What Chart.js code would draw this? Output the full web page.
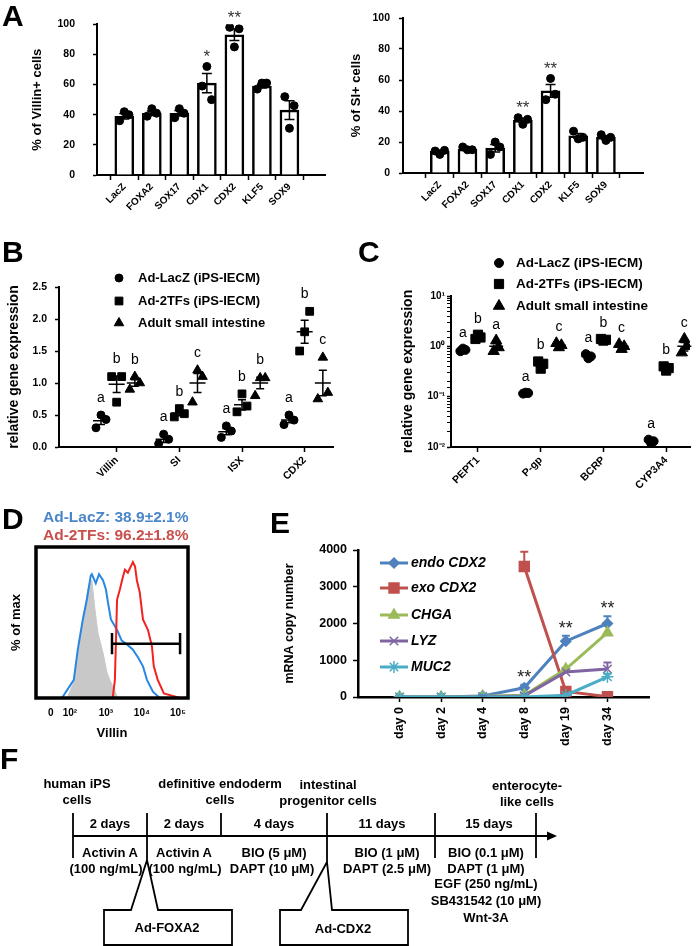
<!DOCTYPE html>
<html>
<head>
<meta charset="utf-8">
<title>Figure</title>
<script src="https://cdn.jsdelivr.net/npm/chart.js@4.4.1/dist/chart.umd.min.js"></script>
<style>
  html, body { margin: 0; padding: 0; background: #fff; }
  body { position: relative; width: 699px; height: 946px; overflow: hidden; font-family: "Liberation Sans", Arial, sans-serif; }
  canvas, svg, .panel, .t, .dt { position: absolute; }
  .panel { font-weight: bold; font-size: 30px; line-height: 1; }
  .t { font-weight: bold; font-size: 13px; line-height: 1; white-space: nowrap; transform: translateX(-50%); }
  .dt { font-weight: bold; font-size: 15.5px; line-height: 1; white-space: nowrap; }
</style>
</head>
<body>
<canvas id="cA1" width="340" height="250" style="left:0;top:0"></canvas>
<canvas id="cA2" width="359" height="250" style="left:340px;top:0"></canvas>
<canvas id="cB" width="340" height="260" style="left:0;top:240px"></canvas>
<canvas id="cC" width="359" height="260" style="left:340px;top:240px"></canvas>
<canvas id="cD" width="240" height="230" style="left:0;top:540px"></canvas>
<canvas id="cE" width="459" height="245" style="left:240px;top:530px"></canvas>

<svg width="699" height="946" style="left:0;top:0" stroke="#000" stroke-width="1.8" fill="none">
  <line x1="73" y1="813" x2="73" y2="858"/>
  <line x1="221" y1="813" x2="221" y2="836"/>
  <line x1="435" y1="813" x2="435" y2="858"/>
  <line x1="536" y1="813" x2="536" y2="858"/>
  <path d="M147 813 L147 860 L131 910 L104 910 L104 945 L232 945 L232 910 L158 910 L147 860"/>
  <path d="M327 813 L327 862 L301 910 L280 910 L280 945 L408 945 L408 910 L332 910 L327 862"/>
  <line x1="73" y1="836" x2="549" y2="836"/>
  <polygon points="547,831.5 557,836 547,840.5" fill="#000" stroke="none"/>
</svg>

<div class="panel" style="left:2px;top:1px">A</div>
<div class="panel" style="left:2px;top:237px">B</div>
<div class="panel" style="left:358px;top:237px">C</div>
<div class="panel" style="left:2px;top:504px">D</div>
<div class="panel" style="left:270px;top:508px">E</div>
<div class="panel" style="left:0;top:744px">F</div>
<div class="dt" style="left:43px;top:509px;color:#4a86c8">Ad-LacZ: 38.9±2.1%</div>
<div class="dt" style="left:43px;top:527px;color:#c8504d">Ad-2TFs: 96.2±1.8%</div>

<script>
// ---------- panel A: % positive cells per transcription factor
const aGenes = ['LacZ', 'FOXA2', 'SOX17', 'CDX1', 'CDX2', 'KLF5', 'SOX9'];
const villinMean = [39, 41, 41, 61, 93, 59, 43];
const villinSem = [1.8, 1.5, 1.8, 6.4, 3.8, 1.3, 6.2];
const villinDots = [[36, 42, 40], [39, 44, 41], [38, 44, 41], [59, 72, 50], [98, 85, 97], [57, 61, 61], [52, 31, 46]];
const villinSig = ['', '', '', '*', '**', '', ''];
const siMean = [14, 15.5, 16, 34, 53, 24, 23];
const siSem = [0.8, 0.7, 2.4, 1.3, 4.1, 1.5, 1.1];
const siDots = [[14.2, 12, 14.6], [16.8, 15, 15], [12, 20, 16.8], [35.7, 31.4, 34.6], [47.3, 61, 50.8], [27, 22, 23], [24.7, 21, 23]];
const siSig = ['', '', '', '**', '**', '', ''];

// ---------- panel B: relative gene expression (linear)
const bGenes = ['Villin', 'SI', 'ISX', 'CDX2'];
const bLacZDots = [[0.3, 0.5, 0.43], [0.05, 0.2, 0.12], [0.15, 0.33, 0.25], [0.35, 0.5, 0.42]];
const bLacZMean = [0.41, 0.12, 0.24, 0.42];
const bLacZSem = [0.06, 0.05, 0.05, 0.04];
const b2TFsDots = [[1.1, 0.7, 1.1], [0.47, 0.6, 0.52], [0.55, 0.83, 0.64], [1.5, 1.8, 2.12]];
const b2TFsMean = [0.98, 0.53, 0.66, 1.8];
const b2TFsSem = [0.13, 0.04, 0.08, 0.18];
const bAdultDots = [[0.9, 1.1, 1.0], [0.7, 1.2, 1.1], [0.8, 1.08, 1.08], [0.75, 1.4, 0.85]];
const bAdultMean = [1.0, 1.0, 1.0, 1.0];
const bAdultSem = [0.05, 0.15, 0.09, 0.2];
const bLetters = [['a', 'a', 'a', 'a'], ['b', 'b', 'b', 'b'], ['b', 'c', 'b', 'c']];

// ---------- panel C: relative gene expression (log)
const cGenes = ['PEPT1', 'P-gp', 'BCRP', 'CYP3A4'];
const cLacZDots = [[0.8, 0.9, 0.85], [0.115, 0.12, 0.118], [0.7, 0.58, 0.63], [0.014, 0.012, 0.013]];
const cLacZMean = [0.85, 0.118, 0.63, 0.013];
const cLacZSem = [0.03, 0.002, 0.03, 0.001];
const c2TFsDots = [[1.4, 1.7, 1.5], [0.5, 0.36, 0.45], [1.4, 1.3, 1.35], [0.4, 0.33, 0.37]];
const c2TFsMean = [1.53, 0.44, 1.35, 0.37];
const c2TFsSem = [0.09, 0.04, 0.03, 0.02];
const cAdultDots = [[0.8, 1.3, 0.95], [1.15, 0.95, 1.05], [1.1, 0.88, 1.0], [0.75, 1.4, 1.0]];
const cAdultMean = [1.0, 1.05, 1.0, 1.0];
const cAdultSem = [0.15, 0.06, 0.06, 0.19];
const cLetters = [['a', 'a', 'a', 'a'], ['b', 'b', 'b', 'b'], ['a', 'c', 'c', 'c']];
const groupNames = ['Ad-LacZ (iPS-IECM)', 'Ad-2TFs (iPS-IECM)', 'Adult small intestine'];

// ---------- panel D: flow cytometry histogram (x in log10 units)
const dTickPos = [1.47, 2, 3, 4, 5];
const dTickLabels = ['0', '10²', '10³', '10⁴', '10⁵'];
const grayLog = [1.92, 2.14, 2.28, 2.42, 2.50, 2.61, 2.69, 2.78, 2.92, 3.03, 3.11, 3.33];
const grayPct = [0, 12, 38, 60, 72, 78, 60, 43, 30, 17, 12, 0];
const blueLog = [1.78, 2.11, 2.22, 2.36, 2.47, 2.58, 2.61, 2.72, 2.81, 2.92, 3.00, 3.06, 3.14, 3.19, 3.31, 3.44, 3.61, 3.75, 3.89, 4.03, 4.14, 4.31, 4.50];
const bluePct = [0, 12, 32, 52, 65, 81, 82, 76, 82, 78, 72, 63, 52, 50, 45, 38, 35, 32, 27, 21, 12, 4, 0];
const redLog = [3.19, 3.25, 3.28, 3.31, 3.39, 3.47, 3.53, 3.61, 3.69, 3.75, 3.81, 3.86, 3.94, 4.03, 4.17, 4.28, 4.33, 4.44, 4.61, 5.06];
const redPct = [0, 12, 38, 65, 72, 80, 85, 83, 87, 90, 87, 78, 70, 52, 45, 34, 21, 12, 3, 0];
const gateFrom = 3.17, gateTo = 5.06, gateLevel = 36;

// ---------- panel E: mRNA copy number time course
const eDays = ['day 0', 'day 2', 'day 4', 'day 8', 'day 19', 'day 34'];
const endoCDX2 = [0, 0, 30, 250, 1520, 2000];
const endoErr = [0, 0, 10, 80, 150, 200];
const exoCDX2 = [null, null, null, 3550, 150, 10];
const exoErr = [0, 0, 0, 400, 0, 0];
const chga = [0, 0, 20, 50, 760, 1750];
const chgaErr = [0, 0, 0, 0, 40, 0];
const lyz = [0, 0, 10, 30, 680, 760];
const lyzErr = [0, 0, 0, 0, 0, 180];
const muc2 = [0, 0, 0, 0, 50, 550];
const muc2Err = [0, 0, 0, 0, 0, 80];
const eSig = ['', '', '', '**', '**', '**'];

Chart.defaults.font.family = '"Liberation Sans", Arial, sans-serif';
Chart.defaults.color = '#000';
Chart.defaults.animation = false;
Chart.defaults.events = [];
Chart.defaults.plugins.legend.display = false;
Chart.defaults.plugins.tooltip.enabled = false;

const BOLD = s => ({size: s, weight: 'bold'});
const fixW = w => s => { s.width = w; };
const fixH = h => s => { s.height = h; };
const drawPoint = Chart.helpers.drawPoint;
const pts = (xs, ys) => xs.map((x, i) => ({x, y: ys[i]}));
const dotShiftA = [-0.17, 0, 0.17];

function barExtras(mean, sem, dots, sig) {
  return {
    id: 'barExtras',
    afterDatasetsDraw(chart) {
      const {ctx, scales: {x, y}} = chart;
      ctx.save();
      ctx.strokeStyle = '#000';
      ctx.lineWidth = 1.5;
      mean.forEach((m, i) => {
        const px = x.getPixelForValue(i);
        const hi = y.getPixelForValue(m + sem[i]), lo = y.getPixelForValue(m - sem[i]);
        ctx.beginPath();
        ctx.moveTo(px, hi); ctx.lineTo(px, lo);
        ctx.moveTo(px - 5, hi); ctx.lineTo(px + 5, hi);
        ctx.moveTo(px - 5, lo); ctx.lineTo(px + 5, lo);
        ctx.stroke();
        if (sig[i]) {
          const top = Math.min(hi, ...dots[i].map(v => y.getPixelForValue(v)));
          ctx.fillStyle = '#333';
          ctx.font = '17px "Liberation Sans", Arial, sans-serif';
          ctx.textAlign = 'center';
          ctx.textBaseline = 'middle';
          ctx.fillText(sig[i], px, top - 9);
        }
      });
      ctx.restore();
    }
  };
}

function barChart(id, mean, sem, dots, sig, cfg) {
  const dotData = [];
  dots.forEach((d, i) => d.forEach((v, k) => dotData.push({x: i + dotShiftA[k], y: v})));
  return new Chart(document.getElementById(id), {
    type: 'bar',
    data: {
      datasets: [
        {type: 'scatter', data: dotData, pointStyle: 'circle', pointRadius: 4, backgroundColor: '#000', borderColor: '#000', order: 1},
        {type: 'bar', data: mean.map((v, i) => ({x: i, y: v})), backgroundColor: '#fff', borderColor: '#000', borderWidth: 2.5, barThickness: 19, order: 2}
      ]
    },
    options: {
      responsive: false,
      layout: {padding: cfg.pad},
      scales: {
        x: {
          type: 'linear', min: cfg.xmin, max: cfg.xmax, afterFit: fixH(cfg.xh),
          grid: {drawOnChartArea: false, tickLength: 5, tickColor: '#000', tickWidth: 1.5},
          border: {color: '#000', width: 2},
          ticks: {stepSize: 1, includeBounds: false, autoSkip: false, minRotation: 45, maxRotation: 45, padding: 1,
                  font: BOLD(10), callback: v => aGenes[v] ?? ''}
        },
        y: {
          min: 0, max: 100, afterFit: fixW(cfg.yw),
          grid: {drawOnChartArea: false, tickLength: 4, tickColor: '#000', tickWidth: 1.5},
          border: {color: '#000', width: 2},
          ticks: {stepSize: 20, padding: cfg.tickPad, font: BOLD(10.5)},
          title: {display: true, text: cfg.title, font: BOLD(13), padding: {top: cfg.titlePad, bottom: 0}}
        }
      }
    },
    plugins: [barExtras(mean, sem, dots, sig)]
  });
}

barChart('cA1', villinMean, villinSem, villinDots, villinSig,
  {pad: {top: 22, right: 15, left: 0, bottom: 0}, yw: 97, xh: 75, xmin: -0.4, xmax: 6.7, title: '% of Villin+ cells', titlePad: 30, tickPad: 18});
barChart('cA2', siMean, siSem, siDots, siSig,
  {pad: {top: 18, right: 56, left: 0, bottom: 0}, yw: 63, xh: 77, xmin: -0.71, xmax: 6.72, title: '% of SI+ cells', titlePad: 9, tickPad: 9});

function markerLegend(styles, cfg) {
  return {
    id: 'markerLegend',
    afterDraw(chart) {
      const ctx = chart.ctx;
      ctx.save();
      ctx.fillStyle = '#000'; ctx.strokeStyle = '#000'; ctx.lineWidth = 1;
      ctx.font = 'bold ' + cfg.size + 'px "Liberation Sans", Arial, sans-serif';
      ctx.textAlign = 'left'; ctx.textBaseline = 'middle';
      groupNames.forEach((name, i) => {
        drawPoint(ctx, {pointStyle: styles[i].style, radius: styles[i].r, rotation: 0, borderWidth: 1}, cfg.mx, cfg.ys[i]);
        ctx.fillStyle = '#000';
        ctx.fillText(name, cfg.tx, cfg.ys[i]);
      });
      ctx.restore();
    }
  };
}

function dotExtras(cats, groups, gap, halfMean) {
  return {
    id: 'dotExtras',
    afterDatasetsDraw(chart) {
      const {ctx, scales: {x, y}} = chart;
      ctx.save();
      ctx.strokeStyle = '#000'; ctx.fillStyle = '#000'; ctx.lineWidth = 1.5;
      ctx.font = '14px "Liberation Sans", Arial, sans-serif';
      ctx.textAlign = 'center'; ctx.textBaseline = 'alphabetic';
      groups.forEach(g => {
        cats.forEach((c, i) => {
          const px = x.getPixelForValue(i + g.off);
          const m = y.getPixelForValue(g.mean[i]);
          const hi = y.getPixelForValue(g.mean[i] + g.sem[i]);
          const lo = y.getPixelForValue(g.mean[i] - g.sem[i]);
          ctx.beginPath();
          ctx.moveTo(px - halfMean, m); ctx.lineTo(px + halfMean, m);
          ctx.moveTo(px, hi); ctx.lineTo(px, lo);
          ctx.moveTo(px - 4, hi); ctx.lineTo(px + 4, hi);
          ctx.moveTo(px - 4, lo); ctx.lineTo(px + 4, lo);
          ctx.stroke();
          const top = Math.min(hi, ...g.dots[i].map(v => y.getPixelForValue(v)));
          ctx.fillText(g.letters[i], px, top - gap);
        });
      });
      ctx.restore();
    }
  };
}

const isPow10 = v => Math.abs(Math.log10(v) - Math.round(Math.log10(v))) < 1e-6;
const SUP = {'-': '⁻', '0': '⁰', '1': '¹', '2': '²'};
const pow10Label = v => '10' + String(Math.round(Math.log10(v))).split('').map(ch => SUP[ch]).join('');

function dotChart(id, cats, groups, cfg) {
  const datasets = groups.map(g => ({
    data: g.dots.flatMap((d, i) => d.map((v, k) => ({x: i + g.off + cfg.jitter[k], y: v}))),
    pointStyle: g.style, pointRadius: g.r, backgroundColor: '#000', borderColor: '#000', borderWidth: 1
  }));
  const yAxis = cfg.log ? {
    type: 'logarithmic', min: 0.01, max: 10, afterFit: fixW(cfg.yw),
    grid: {drawOnChartArea: false, tickLength: 4, tickColor: '#000', tickWidth: c => isPow10(c.tick.value) ? 1.5 : 1},
    border: {color: '#000', width: 2},
    ticks: {autoSkip: false, padding: cfg.tickPad, font: BOLD(10), callback: v => isPow10(v) ? pow10Label(v) : ''},
    title: {display: true, text: 'relative gene expression', font: BOLD(14), padding: {top: cfg.titlePad, bottom: 0}}
  } : {
    min: 0, max: 2.5, afterFit: fixW(cfg.yw),
    grid: {drawOnChartArea: false, tickLength: 4, tickColor: '#000', tickWidth: 1.5},
    border: {color: '#000', width: 2},
    ticks: {stepSize: 0.5, padding: cfg.tickPad, font: BOLD(10.5), callback: v => v.toFixed(1)},
    title: {display: true, text: 'relative gene expression', font: BOLD(14), padding: {top: cfg.titlePad, bottom: 0}}
  };
  return new Chart(document.getElementById(id), {
    type: 'scatter',
    data: {datasets},
    options: {
      responsive: false,
      layout: {padding: cfg.pad},
      scales: {
        x: {
          type: 'linear', min: cfg.xmin, max: cfg.xmax, afterFit: fixH(cfg.xh),
          grid: {drawOnChartArea: false, tickLength: 5, tickColor: '#000', tickWidth: 1.5},
          border: {color: '#000', width: 2},
          ticks: {stepSize: 1, includeBounds: false, autoSkip: false, minRotation: 45, maxRotation: 45, padding: 2,
                  font: BOLD(10.5), callback: v => cats[v] ?? ''}
        },
        y: yAxis
      }
    },
    plugins: [dotExtras(cats, groups, cfg.gap, cfg.halfMean), markerLegend(groups, cfg.legend)]
  });
}

dotChart('cB', bGenes, [
  {dots: bLacZDots, mean: bLacZMean, sem: bLacZSem, letters: bLetters[0], style: 'circle', r: 4, off: -0.25},
  {dots: b2TFsDots, mean: b2TFsMean, sem: b2TFsSem, letters: bLetters[1], style: 'rect', r: 5.5, off: 0},
  {dots: bAdultDots, mean: bAdultMean, sem: bAdultSem, letters: bLetters[2], style: 'triangle', r: 5.5, off: 0.29}
], {pad: {top: 47, right: 5, left: 0, bottom: 0}, yw: 59, xh: 53, xmin: -0.92, xmax: 3.46, tickPad: 8, titlePad: 5.6,
    jitter: [-0.08, 0, 0.08], gap: 13, halfMean: 8, legend: {mx: 119, tx: 138, ys: [38, 61, 83], size: 13}});

dotChart('cC', cGenes, [
  {dots: cLacZDots, mean: cLacZMean, sem: cLacZSem, letters: cLetters[0], style: 'circle', r: 4.5, off: -0.24},
  {dots: c2TFsDots, mean: c2TFsMean, sem: c2TFsSem, letters: cLetters[1], style: 'rect', r: 6.5, off: 0},
  {dots: cAdultDots, mean: cAdultMean, sem: cAdultSem, letters: cLetters[2], style: 'triangle', r: 6.5, off: 0.29}
], {log: true, pad: {top: 56, right: 9, left: 0, bottom: 0}, yw: 111, xh: 53, xmin: -0.43, xmax: 3.38, tickPad: 2, titlePad: 59.6,
    jitter: [-0.04, 0, 0.04], gap: 12, halfMean: 7, legend: {mx: 159, tx: 176, ys: [23, 44, 66], size: 13.5}});

// ---------- panel D
const dBox = {
  id: 'dBox',
  afterDraw(chart) {
    const {ctx, chartArea: a, scales: {x, y}} = chart;
    ctx.save();
    ctx.strokeStyle = '#000';
    ctx.lineWidth = 3.5;
    ctx.strokeRect(a.left, a.top, a.right - a.left, a.bottom - a.top);
    const x0 = x.getPixelForValue(gateFrom), x1 = x.getPixelForValue(gateTo);
    const gy = y.getPixelForValue(gateLevel), c0 = y.getPixelForValue(gateLevel + 7), c1 = y.getPixelForValue(gateLevel - 7);
    ctx.lineWidth = 2.5;
    ctx.beginPath();
    ctx.moveTo(x0, gy); ctx.lineTo(x1, gy);
    ctx.moveTo(x0, c0); ctx.lineTo(x0, c1);
    ctx.moveTo(x1, c0); ctx.lineTo(x1, c1);
    ctx.stroke();
    ctx.restore();
  }
};

new Chart(document.getElementById('cD'), {
  type: 'scatter',
  data: {
    datasets: [
      {data: pts(redLog, redPct), showLine: true, borderColor: '#f2231f', borderWidth: 2, pointRadius: 0, order: 1},
      {data: pts(blueLog, bluePct), showLine: true, borderColor: '#2787e3', borderWidth: 2, pointRadius: 0, order: 2},
      {data: pts(grayLog, grayPct), showLine: true, fill: 'origin', backgroundColor: '#c8c8c8', borderColor: '#c8c8c8', borderWidth: 1, pointRadius: 0, order: 3}
    ]
  },
  options: {
    responsive: false,
    layout: {padding: {top: 7, right: 52, left: 0, bottom: 0}},
    scales: {
      x: {
        type: 'linear', min: 1.06, max: 5.28, afterFit: fixH(72),
        afterBuildTicks: s => { s.ticks = dTickPos.map(v => ({value: v})); },
        grid: {display: false, drawTicks: false}, border: {display: false},
        ticks: {padding: 9, font: BOLD(10), autoSkip: false, maxRotation: 0, callback: (v, i) => dTickLabels[i]},
        title: {display: true, text: 'Villin', font: BOLD(13), padding: {top: 0, bottom: 29}}
      },
      y: {
        min: 0, max: 100, afterFit: fixW(36),
        grid: {display: false, drawTicks: false}, border: {display: false},
        ticks: {display: false},
        title: {display: true, text: '% of max', font: BOLD(13), padding: {top: 9, bottom: 0}}
      }
    }
  },
  plugins: [dBox]
});

// ---------- panel E
const eSeries = [
  {name: 'endo CDX2', values: endoCDX2, err: endoErr, color: '#4f81bd', marker: 'rectRot', r: 5},
  {name: 'exo CDX2', values: exoCDX2, err: exoErr, color: '#c0504d', marker: 'rect', r: 7},
  {name: 'CHGA', values: chga, err: chgaErr, color: '#9bbb59', marker: 'triangle', r: 6},
  {name: 'LYZ', values: lyz, err: lyzErr, color: '#8064a2', marker: 'crossRot', r: 6},
  {name: 'MUC2', values: muc2, err: muc2Err, color: '#4bacc6', marker: 'star', r: 6}
];

const eExtras = {
  id: 'eExtras',
  afterDatasetsDraw(chart) {
    const {ctx, scales: {x, y}} = chart;
    ctx.save();
    ctx.lineWidth = 2;
    eSeries.forEach(s => {
      ctx.strokeStyle = s.color;
      s.values.forEach((v, i) => {
        if (v == null || !s.err[i]) return;
        const px = x.getPixelForValue(i), p0 = y.getPixelForValue(v), p1 = y.getPixelForValue(v + s.err[i]);
        ctx.beginPath();
        ctx.moveTo(px, p0); ctx.lineTo(px, p1);
        ctx.moveTo(px - 4, p1); ctx.lineTo(px + 4, p1);
        ctx.stroke();
      });
    });
    ctx.fillStyle = '#222';
    ctx.font = '18px "Liberation Sans", Arial, sans-serif';
    ctx.textAlign = 'center'; ctx.textBaseline = 'middle';
    eSig.forEach((s, i) => {
      if (!s) return;
      const top = y.getPixelForValue(endoCDX2[i] + endoErr[i]);
      ctx.fillText(s, x.getPixelForValue(i), top - 7);
    });
    // legend
    const ys = [33, 58, 85, 111, 137];
    ctx.font = 'italic bold 14px "Liberation Sans", Arial, sans-serif';
    ctx.textAlign = 'left';
    eSeries.forEach((s, i) => {
      ctx.strokeStyle = s.color; ctx.fillStyle = s.color; ctx.lineWidth = 3;
      ctx.beginPath(); ctx.moveTo(140, ys[i]); ctx.lineTo(168, ys[i]); ctx.stroke();
      ctx.lineWidth = 1.5;
      drawPoint(ctx, {pointStyle: s.marker, radius: s.r, rotation: 0, borderWidth: 1.5}, 154, ys[i]);
      ctx.fillStyle = '#000';
      ctx.fillText(s.name, 171, ys[i]);
    });
    ctx.restore();
  }
};

new Chart(document.getElementById('cE'), {
  type: 'line',
  data: {
    datasets: eSeries.map((s, k) => ({
      label: s.name,
      data: s.values.map((v, i) => ({x: i, y: v})),
      borderColor: s.color, backgroundColor: s.color, borderWidth: 3,
      pointStyle: s.marker, pointRadius: s.r, pointBorderWidth: 1.5, pointBorderColor: s.color,
      tension: 0, spanGaps: false, order: eSeries.length - k
    }))
  },
  options: {
    responsive: false,
    layout: {padding: {top: 20, right: 50, left: 0, bottom: 0}},
    scales: {
      x: {
        type: 'linear', min: -1, max: 6, afterFit: fixH(78),
        afterBuildTicks: s => { s.ticks = eDays.map((d, i) => ({value: i})); },
        grid: {drawOnChartArea: false, tickLength: 5, tickColor: '#000', tickWidth: 1.5},
        border: {color: '#000', width: 2.5},
        ticks: {autoSkip: false, minRotation: 90, maxRotation: 90, padding: 5, font: BOLD(12.5), callback: (v, i) => eDays[i]}
      },
      y: {
        min: 0, max: 4000, afterFit: fixW(118),
        grid: {drawOnChartArea: false, tickLength: 5, tickColor: '#000', tickWidth: 1.5},
        border: {color: '#000', width: 2.5},
        ticks: {stepSize: 1000, padding: 6, font: BOLD(12.5), callback: v => String(v)},
        title: {display: true, text: 'mRNA copy number', font: BOLD(12.5), padding: {top: 42.5, bottom: 0}}
      }
    }
  },
  plugins: [eExtras]
});

// ---------- panel F: protocol timeline
const fLines = [
  ['human iPS', 77, 783], ['cells', 77, 799],
  ['definitive endoderm', 220, 783], ['cells', 220, 799],
  ['intestinal', 328, 784], ['progenitor cells', 328, 800],
  ['enterocyte-', 527, 785], ['like cells', 527, 801],
  ['2 days', 110, 823], ['2 days', 184, 823], ['4 days', 274, 823], ['11 days', 382, 823], ['15 days', 489, 823],
  ['Activin A', 110, 852], ['Activin A', 184, 852], ['BIO (5 μM)', 274, 852], ['BIO (1 μM)', 387, 852], ['BIO (0.1 μM)', 486, 852],
  ['(100 ng/mL)', 106, 868], ['(100 ng/mL)', 185, 868], ['DAPT (10 μM)', 272, 868], ['DAPT (2.5 μM)', 387, 868], ['DAPT (1 μM)', 486, 868],
  ['EGF (250 ng/mL)', 486, 883], ['SB431542 (10 μM)', 486, 900], ['Wnt-3A', 486, 917],
  ['Ad-FOXA2', 167, 927], ['Ad-CDX2', 343, 928]
];
fLines.forEach(([txt, cx, cy]) => {
  const d = document.createElement('div');
  d.className = 't';
  d.textContent = txt;
  d.style.left = cx + 'px';
  d.style.top = (cy - 6.5) + 'px';
  document.body.appendChild(d);
});
</script>
</body>
</html>
